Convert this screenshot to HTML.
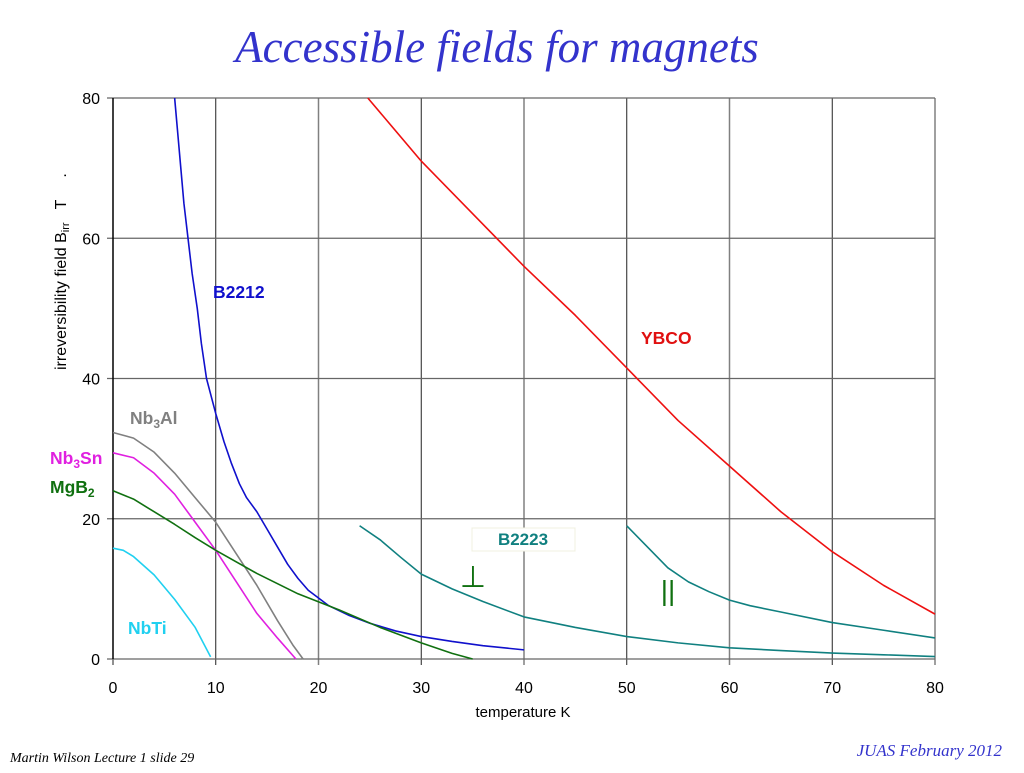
<!DOCTYPE html>
<html><head><meta charset="utf-8"><style>
body{margin:0;width:1024px;height:768px;background:#fff;overflow:hidden;font-family:"Liberation Sans",sans-serif}
</style></head><body>
<svg width="1024" height="768" id="svg">
<text x="497" y="62" text-anchor="middle" font-family="Liberation Serif" font-style="italic" font-size="45" fill="#3333cc">Accessible fields for magnets</text>
<g id="grid"></g><g id="series"></g>
<text transform="translate(66,370) rotate(-90)" font-size="16" fill="#000">irreversibility field B<tspan font-size="11" dy="3">irr</tspan><tspan dy="-3" xml:space="preserve">   T     .</tspan></text>
<text x="523" y="717" text-anchor="middle" font-size="15">temperature K</text>
<text x="213" y="298" font-size="17.5" font-weight="bold" fill="#1010cc">B2212</text>
<text x="641" y="344" font-size="17.5" font-weight="bold" fill="#e01010">YBCO</text>
<text x="130" y="424" font-size="17.5" font-weight="bold" fill="#808080">Nb<tspan font-size="12" dy="4">3</tspan><tspan dy="-4">Al</tspan></text>
<text x="50" y="464" font-size="17.5" font-weight="bold" fill="#e020e0">Nb<tspan font-size="12" dy="4">3</tspan><tspan dy="-4">Sn</tspan></text>
<text x="50" y="493" font-size="17.5" font-weight="bold" fill="#107010">MgB<tspan font-size="12" dy="4">2</tspan></text>
<text x="128" y="634" font-size="17.5" font-weight="bold" fill="#20d0f0">NbTi</text>
<rect x="472" y="528" width="103" height="23" fill="#fff" stroke="#f0f0e0"/>
<text x="523" y="545" text-anchor="middle" font-size="17" font-weight="bold" fill="#108080">B2223</text>
<text x="473" y="587" text-anchor="middle" font-size="30" fill="#107010">⊥</text>
<text x="668" y="600" text-anchor="middle" font-size="28" fill="#107010">||</text>
<text x="10" y="762" font-family="Liberation Serif" font-style="italic" font-size="14">Martin Wilson Lecture 1 slide 29</text>
<text x="1002" y="756" text-anchor="end" font-family="Liberation Serif" font-style="italic" font-size="17" fill="#3333cc">JUAS February 2012</text>
</svg>
<script>
const xTicks=[0,10,20,30,40,50,60,70,80];
const yTicks=[0,20,40,60,80];
const b2212=[[6.0,80],[6.3,75],[6.6,70],[6.9,65],[7.3,60],[7.7,55],[8.2,50],[8.6,45],[9.1,40],[10.0,35],[10.8,31],[11.5,28],[12.3,25],[13,23],[14,21],[15,18.5],[16,16],[17,13.5],[18,11.5],[19,9.8],[20,8.7],[21,7.6],[23,6.2],[25,5.1],[27.5,4],[30,3.2],[33,2.5],[36,1.9],[40,1.3]];
const ybco=[[24.8,80],[30,71],[35,63.5],[40,56],[45,49],[50,41.5],[55,34],[60,27.5],[65,21],[70,15.3],[75,10.5],[80,6.4]];
const nb3al=[[0,32.3],[2,31.5],[4,29.5],[6,26.5],[8,23],[10,19.5],[12,15],[14,10.5],[16,5.5],[17.5,2],[18.5,0]];
const nb3sn=[[0,29.4],[2,28.7],[4,26.5],[6,23.5],[8,19.5],[10,15.5],[12,11],[14,6.5],[16,3],[17.8,0]];
const mgb2=[[0,24],[2,22.8],[4,21],[6,19.2],[8,17.3],[10,15.5],[14,12.2],[18,9.3],[22,7],[26,4.5],[30,2.3],[33,0.8],[35,0]];
const nbti=[[0,15.8],[1,15.5],[2,14.6],[4,12],[6,8.5],[8,4.5],[9.5,0.3]];
const b2223perp=[[24,19],[26,17],[28,14.5],[30,12.1],[33,10],[36,8.2],[40,6],[45,4.5],[50,3.2],[55,2.3],[60,1.6],[65,1.2],[70,0.85],[75,0.6],[80,0.35]];
const b2223par=[[50,19],[52,16],[54,13],[56,11],[58,9.6],[60,8.4],[62,7.6],[65,6.7],[70,5.2],[75,4.1],[80,3.0]];
const X0=113,X1=935,Y0=659,Y1=98;
const sx=v=>X0+(v/80)*(X1-X0), sy=v=>Y0-(v/80)*(Y0-Y1);
const NS="http://www.w3.org/2000/svg";
const grid=document.getElementById('grid'), ser=document.getElementById('series');
function mk(t,a,p){const e=document.createElementNS(NS,t);for(const k in a)e.setAttribute(k,a[k]);p.appendChild(e);return e;}
xTicks.forEach(v=>{
 const l=mk('line',{x1:sx(v),x2:sx(v),y1:Y1,y2:Y0+6,stroke:(v%20==0&&v>0)?'#808080':'#222','stroke-width':(v%20==0&&v>0)?1.5:1},grid);
 
 
 const t=mk('text',{x:sx(v),y:Y0+34,'text-anchor':'middle','font-size':16},grid);t.textContent=v;
 
 
});
yTicks.forEach(v=>{
 const l=mk('line',{x1:X0-6,x2:X1,y1:sy(v),y2:sy(v),stroke:'#666','stroke-width':1.2},grid);
 
 
 const t=mk('text',{x:X0-13,y:sy(v)+6,'text-anchor':'end','font-size':16},grid);t.textContent=v;
 
 
});
const a=mk('line',{x1:X0,x2:X0,y1:Y1,y2:Y0,stroke:'#000','stroke-width':1.5},grid);


const list=[[b2212,'#1010cc','b2212'],[ybco,'#ee1010','ybco'],[nb3al,'#808080','nb3al'],[nb3sn,'#e020e0','nb3sn'],[mgb2,'#107010','mgb2'],[nbti,'#20d0f0','nbti'],[b2223perp,'#108080','b2223-perp'],[b2223par,'#108080','b2223-par']];
list.forEach(([d,c,n])=>{
 const p=mk('polyline',{points:d.map(q=>sx(q[0])+','+sy(q[1])).join(' '),fill:'none',stroke:c,'stroke-width':1.6,'stroke-linejoin':'round'},ser);
 
 
});
</script>
</body></html>
